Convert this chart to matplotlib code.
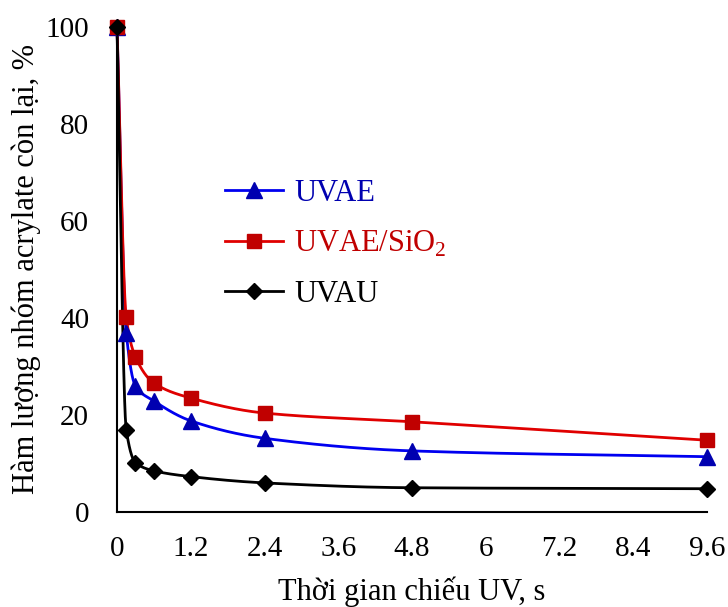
import numpy as np
import matplotlib
matplotlib.use("Agg")
import matplotlib.pyplot as plt

plt.rcParams['font.family'] = ['Liberation Serif', 'DejaVu Serif']
plt.rcParams['mathtext.fontset'] = 'custom'
plt.rcParams['mathtext.rm'] = 'Liberation Serif'

time_s = [0, 0.15, 0.3, 0.6, 1.2, 2.4, 4.8, 9.6]
uvae = [100, 37.0, 26.0, 22.9, 18.8, 15.2, 12.6, 11.4]
uvae_sio2 = [100, 40.2, 32.0, 26.6, 23.5, 20.4, 18.6, 14.8]
uvau = [100, 17.0, 10.2, 8.5, 7.3, 6.0, 5.0, 4.8]

x_ticks = [0, 1.2, 2.4, 3.6, 4.8, 6, 7.2, 8.4, 9.6]
x_tick_labels = ['0', '1.2', '2.4', '3.6', '4.8', '6', '7.2', '8.4', '9.6']
y_ticks = [0, 20, 40, 60, 80, 100]


def smooth(xs, ys, n=60):
    # monotone cubic (Fritsch-Carlson) smoothed line through the points
    x = np.asarray(xs, float); y = np.asarray(ys, float)
    h = np.diff(x); d = np.diff(y) / h
    m = np.zeros_like(y)
    m[0] = d[0]; m[-1] = d[-1]
    for k in range(1, len(x) - 1):
        if d[k - 1] * d[k] <= 0:
            m[k] = 0
        else:
            w1 = 2 * h[k] + h[k - 1]; w2 = h[k] + 2 * h[k - 1]
            m[k] = (w1 + w2) / (w1 / d[k - 1] + w2 / d[k])
    ox, oy = [], []
    t = np.linspace(0, 1, n)
    for k in range(len(x) - 1):
        h00 = 2*t**3 - 3*t**2 + 1; h10 = t**3 - 2*t**2 + t
        h01 = -2*t**3 + 3*t**2; h11 = t**3 - t**2
        ox.extend(x[k] + t * h[k])
        oy.extend(h00*y[k] + h10*h[k]*m[k] + h01*y[k+1] + h11*h[k]*m[k+1])
    return np.array(ox), np.array(oy)


fig = plt.figure(figsize=(7.28, 6.07), dpi=100)
ax = fig.add_axes([117/728, 1-512/607, 590/728, 485/607])

series = [
    (uvae, '#0000F0', '#0000B0', '^', 11, 'UVAE'),
    (uvae_sio2, '#E00000', '#C00000', 's', 10, 'UVAE/SiO$_2$'),
    (uvau, '#000000', '#000000', 'D', 8, 'UVAU'),
]
handles = []
for ys, lc, mc, mk, ms, lab in series:
    sx, sy = smooth(time_s, ys)
    ax.plot(sx, sy, color=lc, lw=2, zorder=2, clip_on=False)
    ax.plot(time_s, ys, linestyle='none', marker=mk, color=mc, ms=ms, zorder=3, clip_on=False)
    h, = ax.plot([], [], color=lc, lw=2, marker=mk, mfc=mc, mec=mc, ms=ms, label=lab)
    handles.append(h)

ax.set_xlim(0, 9.6)
ax.set_ylim(0, 100)
ax.set_xticks(x_ticks)
ax.set_xticklabels(x_tick_labels)
ax.set_yticks(y_ticks)
ax.tick_params(length=0, labelsize=21)
ax.tick_params(axis='y', pad=20)
ax.tick_params(axis='x', pad=17)
for s in ['top', 'right']:
    ax.spines[s].set_visible(False)
for s in ['left', 'bottom']:
    ax.spines[s].set_linewidth(1.5)

ax.set_xlabel('Thời gian chiếu UV, s', fontsize=22, labelpad=11)
ax.set_ylabel('Hàm lượng nhóm acrylate còn lại, %', fontsize=22, labelpad=3)

leg = ax.legend(handles=handles, loc='center left', bbox_to_anchor=(0.137, 0.553),
                frameon=False, fontsize=22, handlelength=1.9, labelspacing=0.68,
                handletextpad=0.35)
for txt, c in zip(leg.get_texts(), ['#0000B0', '#C00000', '#000000']):
    txt.set_color(c)

fig.savefig('out.png', dpi=100)
